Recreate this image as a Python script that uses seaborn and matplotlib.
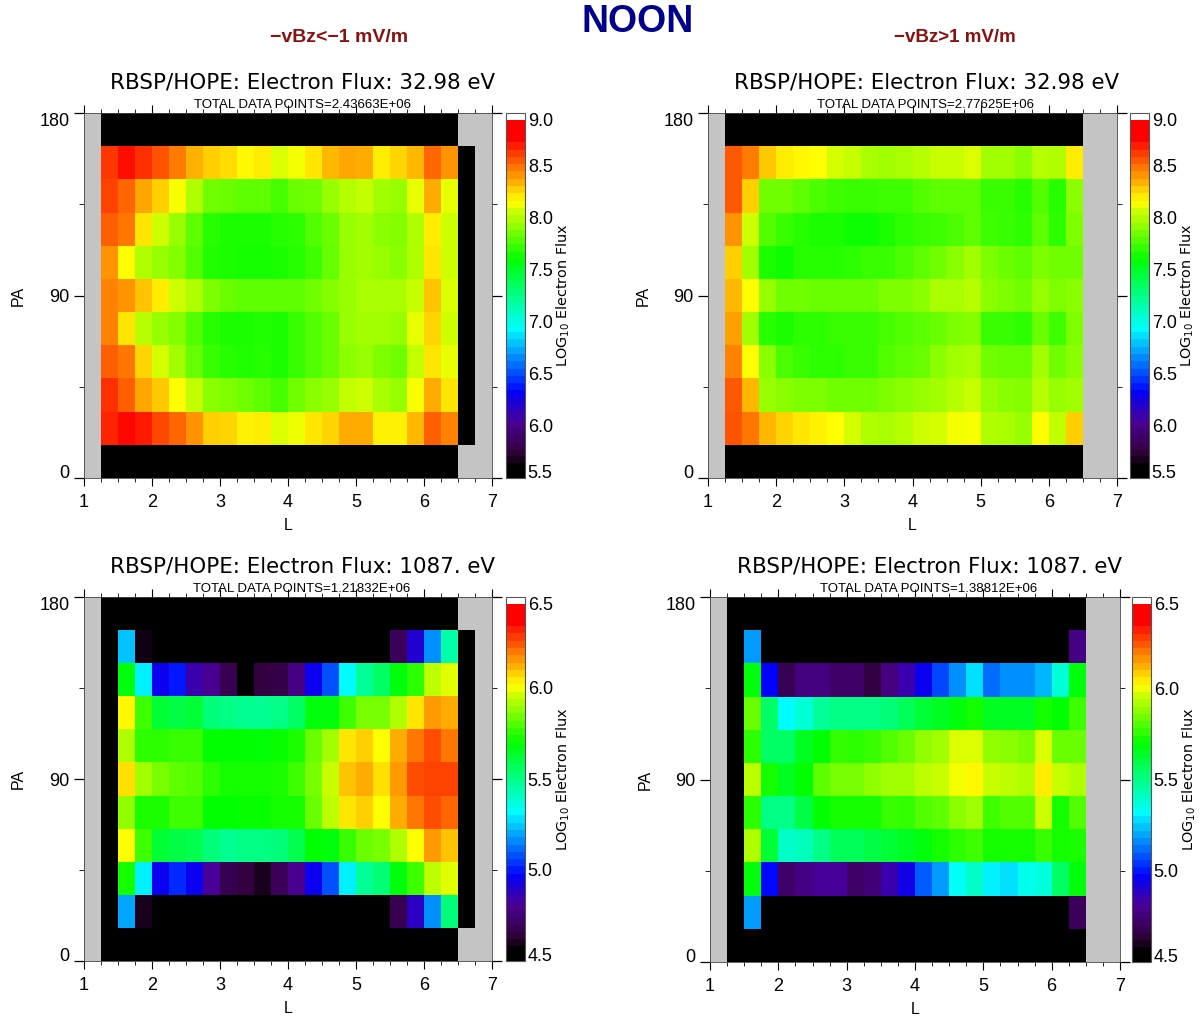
import matplotlib

matplotlib.use("Agg")
import matplotlib.pyplot as plt
import numpy as np
import seaborn as sns
from matplotlib.colors import LinearSegmentedColormap

WIDTH, HEIGHT = 1200, 1018

# L bins are 0.25 wide from 1 to 7, the 21 data columns start at L=1.25
L_TICKS = [1, 2, 3, 4, 5, 6, 7]
PA_TICKS = [180, 90, 0]
N_L = 24
N_PA = 11

# rows run from high PA (top) to low PA, the first and last PA bins are empty
LOW_32EV_LEFT = [
    [8.63, 8.72, 8.64, 8.56, 8.46, 8.34, 8.27, 8.24, 8.17, 8.20, 8.08, 8.13, 8.22, 8.33, 8.36, 8.35, 8.20, 8.25, 8.33, 8.51, 8.41],
    [8.60, 8.51, 8.36, 8.27, 8.14, 7.98, 7.85, 7.83, 7.80, 7.80, 7.75, 7.83, 7.85, 7.92, 8.00, 8.02, 7.95, 7.92, 8.10, 8.35, 8.10],
    [8.53, 8.47, 8.22, 8.05, 7.92, 7.80, 7.68, 7.66, 7.65, 7.65, 7.68, 7.70, 7.78, 7.83, 7.92, 7.95, 7.90, 7.88, 7.98, 8.20, 8.05],
    [8.41, 8.16, 7.98, 7.92, 7.88, 7.78, 7.67, 7.65, 7.64, 7.64, 7.65, 7.68, 7.74, 7.82, 7.92, 7.95, 7.92, 7.90, 7.98, 8.22, 8.05],
    [8.45, 8.41, 8.30, 8.20, 8.05, 7.98, 7.87, 7.83, 7.80, 7.80, 7.80, 7.80, 7.85, 7.88, 7.93, 7.97, 7.97, 7.97, 8.03, 8.30, 8.08],
    [8.44, 8.22, 8.00, 7.92, 7.88, 7.78, 7.68, 7.66, 7.66, 7.67, 7.65, 7.72, 7.77, 7.83, 7.92, 7.95, 7.95, 7.92, 8.10, 8.25, 8.05],
    [8.53, 8.47, 8.25, 8.07, 7.95, 7.82, 7.72, 7.68, 7.67, 7.68, 7.66, 7.72, 7.78, 7.83, 7.90, 7.92, 7.87, 7.85, 8.02, 8.22, 8.10],
    [8.64, 8.53, 8.36, 8.28, 8.16, 8.02, 7.90, 7.87, 7.84, 7.80, 7.75, 7.85, 7.90, 7.92, 8.02, 8.05, 7.97, 7.92, 8.15, 8.35, 8.22],
    [8.67, 8.74, 8.69, 8.58, 8.51, 8.41, 8.27, 8.25, 8.18, 8.20, 8.08, 8.12, 8.22, 8.26, 8.35, 8.35, 8.18, 8.18, 8.33, 8.53, 8.44],
]
LOW_32EV_RIGHT = [
    [8.54, 8.46, 8.28, 8.20, 8.17, 8.16, 8.07, 8.03, 7.97, 7.95, 7.97, 8.00, 8.03, 8.03, 8.08, 7.95, 7.95, 7.90, 8.00, 7.98, 8.20],
    [8.54, 8.27, 7.85, 7.85, 7.80, 7.76, 7.74, 7.72, 7.72, 7.74, 7.74, 7.78, 7.80, 7.80, 7.80, 7.72, 7.72, 7.68, 7.78, 7.68, 7.90],
    [8.40, 8.05, 7.78, 7.72, 7.68, 7.66, 7.65, 7.63, 7.62, 7.66, 7.70, 7.72, 7.74, 7.76, 7.80, 7.74, 7.72, 7.70, 7.80, 7.70, 7.87],
    [8.27, 7.95, 7.66, 7.62, 7.68, 7.68, 7.68, 7.70, 7.72, 7.72, 7.76, 7.80, 7.85, 7.90, 7.95, 7.87, 7.83, 7.80, 7.87, 7.85, 7.85],
    [8.33, 8.16, 7.92, 7.85, 7.85, 7.83, 7.83, 7.83, 7.83, 7.87, 7.87, 7.90, 7.97, 7.97, 8.00, 7.90, 7.87, 7.85, 7.92, 7.87, 7.90],
    [8.38, 7.95, 7.68, 7.66, 7.70, 7.70, 7.72, 7.72, 7.72, 7.75, 7.78, 7.80, 7.83, 7.87, 7.88, 7.72, 7.72, 7.70, 7.83, 7.74, 7.87],
    [8.44, 8.16, 7.90, 7.76, 7.72, 7.70, 7.70, 7.72, 7.72, 7.78, 7.80, 7.83, 7.90, 7.95, 7.97, 7.85, 7.83, 7.83, 7.95, 7.85, 7.90],
    [8.54, 8.33, 7.92, 7.90, 7.87, 7.87, 7.85, 7.85, 7.85, 7.87, 7.90, 7.93, 7.95, 8.00, 8.03, 7.92, 7.90, 7.88, 8.00, 7.92, 7.95],
    [8.56, 8.47, 8.33, 8.25, 8.22, 8.18, 8.16, 8.07, 7.98, 7.97, 8.00, 8.05, 8.07, 8.13, 8.14, 7.98, 7.97, 7.92, 8.16, 8.02, 8.27],
]
HIGH_1087EV_LEFT = [
    [4.50, 5.24, 4.58, 4.50, 4.50, 4.50, 4.50, 4.50, 4.50, 4.50, 4.50, 4.50, 4.50, 4.50, 4.50, 4.50, 4.50, 4.70, 4.90, 5.17, 5.45],
    [4.50, 5.68, 5.30, 4.95, 5.00, 4.85, 4.80, 4.68, 4.50, 4.65, 4.67, 4.78, 4.95, 5.08, 5.32, 5.47, 5.55, 5.68, 5.75, 5.93, 5.98],
    [4.50, 6.03, 5.78, 5.62, 5.60, 5.62, 5.52, 5.50, 5.48, 5.48, 5.50, 5.55, 5.68, 5.68, 5.78, 5.85, 5.85, 5.92, 6.05, 6.15, 6.13],
    [4.50, 5.92, 5.75, 5.75, 5.77, 5.77, 5.70, 5.70, 5.70, 5.69, 5.71, 5.73, 5.83, 5.90, 6.05, 6.08, 6.02, 6.13, 6.20, 6.25, 6.20],
    [4.50, 6.06, 5.90, 5.85, 5.82, 5.80, 5.75, 5.72, 5.72, 5.72, 5.73, 5.78, 5.85, 5.95, 6.10, 6.13, 6.06, 6.15, 6.25, 6.27, 6.27],
    [4.50, 5.88, 5.73, 5.73, 5.78, 5.78, 5.70, 5.70, 5.71, 5.71, 5.72, 5.72, 5.83, 5.93, 6.05, 6.08, 6.02, 6.13, 6.20, 6.25, 6.22],
    [4.50, 6.02, 5.78, 5.62, 5.60, 5.58, 5.52, 5.48, 5.50, 5.50, 5.52, 5.58, 5.70, 5.68, 5.77, 5.83, 5.85, 5.92, 6.02, 6.15, 6.10],
    [4.50, 5.72, 5.30, 4.95, 5.03, 4.95, 4.82, 4.68, 4.65, 4.60, 4.70, 4.80, 4.95, 5.08, 5.30, 5.47, 5.53, 5.68, 5.78, 5.93, 5.98],
    [4.50, 5.20, 4.60, 4.50, 4.50, 4.50, 4.50, 4.50, 4.50, 4.50, 4.50, 4.50, 4.50, 4.50, 4.50, 4.50, 4.50, 4.68, 4.88, 5.17, 5.52],
]
HIGH_1087EV_RIGHT = [
    [4.50, 5.18, 4.50, 4.50, 4.50, 4.50, 4.50, 4.50, 4.50, 4.50, 4.50, 4.50, 4.50, 4.50, 4.50, 4.50, 4.50, 4.50, 4.50, 4.50, 4.78],
    [4.50, 5.68, 4.97, 4.68, 4.77, 4.77, 4.72, 4.72, 4.65, 4.77, 4.85, 4.95, 5.07, 5.17, 5.28, 5.12, 5.17, 5.17, 5.22, 5.38, 5.68],
    [4.50, 5.83, 5.55, 5.32, 5.38, 5.47, 5.50, 5.50, 5.50, 5.52, 5.57, 5.62, 5.65, 5.68, 5.72, 5.65, 5.65, 5.65, 5.72, 5.70, 5.78],
    [4.50, 5.75, 5.55, 5.55, 5.65, 5.70, 5.76, 5.75, 5.77, 5.80, 5.83, 5.88, 5.90, 5.97, 5.97, 5.88, 5.87, 5.85, 5.97, 5.83, 5.83],
    [4.50, 5.93, 5.72, 5.65, 5.70, 5.82, 5.85, 5.85, 5.88, 5.90, 5.90, 5.93, 5.95, 6.00, 6.03, 5.95, 5.93, 5.92, 6.04, 5.95, 5.92],
    [4.50, 5.75, 5.50, 5.50, 5.60, 5.70, 5.72, 5.72, 5.72, 5.77, 5.76, 5.80, 5.82, 5.87, 5.90, 5.78, 5.80, 5.80, 5.96, 5.72, 5.80],
    [4.50, 5.92, 5.62, 5.40, 5.42, 5.50, 5.57, 5.57, 5.60, 5.62, 5.65, 5.68, 5.72, 5.75, 5.78, 5.72, 5.72, 5.72, 5.77, 5.72, 5.73],
    [4.50, 5.68, 4.98, 4.72, 4.78, 4.82, 4.82, 4.72, 4.75, 4.85, 4.93, 5.10, 5.18, 5.33, 5.40, 5.30, 5.28, 5.35, 5.37, 5.55, 5.68],
    [4.50, 5.18, 4.50, 4.50, 4.50, 4.50, 4.50, 4.50, 4.50, 4.50, 4.50, 4.50, 4.50, 4.50, 4.50, 4.50, 4.50, 4.50, 4.50, 4.50, 4.70],
]

TITLES = [
    "RBSP/HOPE: Electron Flux: 32.98 eV",
    "RBSP/HOPE: Electron Flux: 32.98 eV",
    "RBSP/HOPE: Electron Flux: 1087. eV",
    "RBSP/HOPE: Electron Flux: 1087. eV",
]
SUBTITLES = [
    "TOTAL DATA POINTS=2.43663E+06",
    "TOTAL DATA POINTS=2.77625E+06",
    "TOTAL DATA POINTS=1.21832E+06",
    "TOTAL DATA POINTS=1.38812E+06",
]
CBAR_TICKS_LOW = [5.5, 6.0, 6.5, 7.0, 7.5, 8.0, 8.5, 9.0]
CBAR_TICKS_HIGH = [4.5, 5.0, 5.5, 6.0, 6.5]

GRAY = "#c4c4c4"
CBAR_BANDS = 50


def flux_cmap():
    nodes = [
        (0.00, "#000000"),
        (0.025, "#000000"),
        (0.07, "#32003c"),
        (0.155, "#4b0096"),
        (0.235, "#0000ff"),
        (0.41, "#00ffff"),
        (0.60, "#00ff00"),
        (0.76, "#ffff00"),
        (0.82, "#ffa500"),
        (0.93, "#ff0000"),
        (0.98, "#ff0000"),
        (0.98, "#ffffff"),
        (1.00, "#ffffff"),
    ]
    return LinearSegmentedColormap.from_list("idl_flux", nodes, N=256)


def full_grid(rows, vmin, outer_bin):
    # grid is NaN (gray) outside of the sampled L range, vmin (black) where no flux
    grid = np.full((N_PA, N_L), np.nan)
    grid[:, 1:22] = vmin
    grid[1:10, 1:22] = rows
    if outer_bin:
        grid[1:10, 22] = vmin
    return grid


def px_axes(fig, x0, y0, x1, y1):
    return fig.add_axes([x0 / WIDTH, 1 - y1 / HEIGHT, (x1 - x0) / WIDTH, (y1 - y0) / HEIGHT])


def pa_pos(pa):
    return (180 - np.asarray(pa, dtype=float)) / 180 * N_PA


def draw_panel(fig, rows, box, cbar_box, ticks, outer_bin, pa_x):
    ax = px_axes(fig, *box)
    cax = px_axes(fig, *cbar_box)
    vmin, vmax = ticks[0], ticks[-1]
    sns.heatmap(
        full_grid(rows, vmin, outer_bin),
        ax=ax,
        cbar_ax=cax,
        cbar_kws={"boundaries": np.linspace(vmin, vmax, CBAR_BANDS + 1)},
        cmap=flux_cmap(),
        vmin=vmin,
        vmax=vmax,
        xticklabels=False,
        yticklabels=False,
    )
    ax.set_facecolor(GRAY)
    for side in ax.spines.values():
        side.set_visible(True)
        side.set_linewidth(0.6)
        side.set_color("#444444")

    ax.set_xticks(np.arange(0, N_L + 1, 4))
    ax.set_xticklabels(L_TICKS)
    ax.set_xticks(np.arange(0, N_L + 1), minor=True)
    ax.set_yticks(pa_pos(PA_TICKS))
    ax.set_yticklabels(PA_TICKS)
    ax.set_yticks(pa_pos([135, 45]), minor=True)
    ax.tick_params(axis="x", which="major", top=True, length=5.5, width=0.8, pad=6, labelsize=13)
    ax.tick_params(axis="x", which="minor", top=True, length=2.8, width=0.6)
    ax.tick_params(axis="y", which="major", right=True, length=7.5, width=0.9, pad=3, labelsize=13, labelrotation=0)
    ax.tick_params(axis="y", which="minor", right=True, length=3.5, width=0.6)
    labels = ax.get_yticklabels()
    labels[0].set_va("top")
    labels[-1].set_va("baseline")

    ax.set_xlabel("L", fontsize=11.5, labelpad=5)
    ax.set_ylabel("")
    fig.text(pa_x / WIDTH, 1 - (box[1] + box[3]) / 2 / HEIGHT, "PA", rotation=90, fontsize=11.5, ha="center", va="center")

    cbar = ax.collections[0].colorbar
    cbar.set_ticks(ticks)
    cbar.set_ticklabels([f"{t:.1f}" for t in ticks])
    cax.tick_params(length=0, pad=2, labelsize=13)
    tick_labels = cax.get_yticklabels()
    tick_labels[0].set_va("baseline")
    tick_labels[-1].set_va("top")
    cbar.outline.set_linewidth(0.8)
    cbar.outline.set_edgecolor("#555555")
    cbar.set_label("LOG$_{10}$ Electron Flux", fontsize=10.4, family="DejaVu Sans", labelpad=1)


def main():
    sns.set_theme(style="ticks")
    plt.rcParams["font.family"] = ["Liberation Sans", "DejaVu Sans"]
    plt.rcParams["mathtext.fontset"] = "dejavusans"
    for key in ["text.color", "axes.labelcolor", "xtick.color", "ytick.color"]:
        plt.rcParams[key] = "black"

    fig = plt.figure(figsize=(WIDTH / 100, HEIGHT / 100), dpi=100)

    draw_panel(fig, LOW_32EV_LEFT, (84, 113, 492, 478), (506, 113, 525, 478), CBAR_TICKS_LOW, True, 18)
    draw_panel(fig, LOW_32EV_RIGHT, (708, 113, 1117, 478), (1130, 113, 1149, 478), CBAR_TICKS_LOW, False, 643)
    draw_panel(fig, HIGH_1087EV_LEFT, (84, 597, 492, 961), (506, 597, 525, 961), CBAR_TICKS_HIGH, True, 18)
    draw_panel(fig, HIGH_1087EV_RIGHT, (710, 597, 1120, 962), (1132, 597, 1151, 962), CBAR_TICKS_HIGH, False, 645)

    title_spots = [(303, 83), (927, 83), (303, 566), (929.5, 566)]
    sub_spots = [(302, 105), (926, 105), (302, 589), (929, 589)]
    for title, (x, y) in zip(TITLES, title_spots):
        fig.text(x / WIDTH, 1 - y / HEIGHT, title, fontsize=15.4, family="DejaVu Sans", ha="center", va="center")
    for sub, (x, y) in zip(SUBTITLES, sub_spots):
        fig.text(x / WIDTH, 1 - y / HEIGHT, sub, fontsize=9.5, ha="center", va="center")

    fig.text(638 / WIDTH, 1 - 22 / HEIGHT, "NOON", fontsize=27, fontweight="bold", color="#00008c", ha="center", va="center")
    fig.text(339 / WIDTH, 1 - 37 / HEIGHT, "\u2212vBz<\u22121 mV/m", fontsize=14, fontweight="bold", color="#8b1010", ha="center", va="center")
    fig.text(955 / WIDTH, 1 - 37 / HEIGHT, "\u2212vBz>1 mV/m", fontsize=13.5, fontweight="bold", color="#8b1010", ha="center", va="center")

    fig.savefig("out.png", dpi=100)


if __name__ == "__main__":
    main()
